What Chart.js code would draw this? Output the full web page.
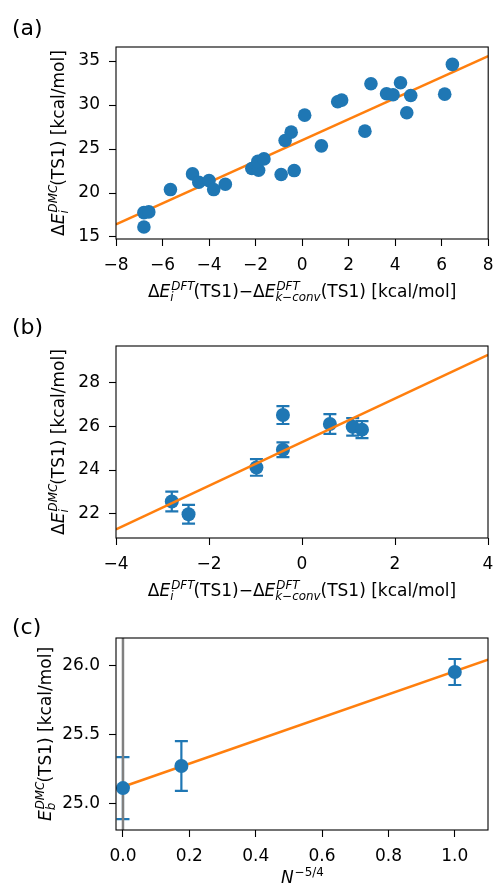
<!DOCTYPE html>
<html>
<head>
<meta charset="utf-8">
<script src="https://cdn.jsdelivr.net/npm/chart.js@4.4.0/dist/chart.umd.min.js"></script>
<style>
  body { margin: 0; background: #fff; }
  canvas { position: absolute; left: 0; }
</style>
</head>
<body>
<canvas id="ca" width="495" height="305" style="top:0px"></canvas>
<canvas id="cb" width="495" height="305" style="top:305px"></canvas>
<canvas id="cc" width="495" height="274" style="top:610px"></canvas>
<script>
  // panel (a)
  var aX = [-6.8, -6.59, -6.8, -5.66, -4.71, -4.44, -4.0, -3.8, -3.3, -2.16, -1.87, -1.9, -1.64, -0.9, -0.34, -0.73, -0.47, 0.11, 0.83, 1.53, 1.7, 2.7, 2.96, 3.63, 3.91, 4.23, 4.5, 4.67, 6.13, 6.46];
  var aY = [17.77, 17.85, 16.14, 20.39, 22.17, 21.22, 21.41, 20.39, 21.0, 22.78, 22.59, 23.6, 23.88, 22.1, 22.55, 25.97, 26.92, 28.85, 25.36, 30.37, 30.56, 27.03, 32.42, 31.28, 31.17, 32.53, 29.12, 31.09, 31.24, 34.62];
  var aFitX = [-8, 8];
  var aFitY = [16.44, 35.57];
  var aXRange = [-8, 8], aYRange = [14.77, 36.6];

  // panel (b)
  var bX = [-2.8, -2.44, -0.98, -0.41, -0.41, 0.6, 1.09, 1.29];
  var bY = [22.56, 21.98, 24.12, 24.93, 26.52, 26.11, 25.98, 25.85];
  var bErr = [0.45, 0.43, 0.38, 0.34, 0.41, 0.45, 0.40, 0.39];
  var bFitX = [-4, 4];
  var bFitY = [21.28, 29.27];
  var bXRange = [-4, 4], bYRange = [20.89, 29.68];

  // panel (c)
  var cX = [0.0, 0.176, 1.0];
  var cY = [25.11, 25.27, 25.95];
  var cErr = [0.224, 0.18, 0.094];
  var cFitX = [0.0, 1.1];
  var cFitY = [25.12, 26.04];
  var cXRange = [-0.021, 1.1], cYRange = [24.807, 26.196];

  var blue = '#1f77b4', orange = '#ff7f0e';
  var FS = 17;
  var FONT = "'DejaVu Sans', sans-serif";

  function pairs(xs, ys) {
    var out = [];
    for (var i = 0; i < xs.length; i++) out.push({x: xs[i], y: ys[i]});
    return out;
  }

  function fmt(dec) {
    return function(v) { return v.toFixed(dec).replace('-', '\u2212'); };
  }

  // text with math style super/subscripts
  function segWidth(ctx, s, size) {
    if (s.sup !== undefined || s.sub !== undefined) {
      ctx.font = (s.it ? 'italic ' : '') + (size * 0.7) + 'px ' + FONT;
      var w1 = s.sup ? ctx.measureText(s.sup).width : 0;
      var w2 = s.sub ? ctx.measureText(s.sub).width : 0;
      return Math.max(w1, w2);
    }
    ctx.font = (s.it ? 'italic ' : '') + size + 'px ' + FONT;
    return ctx.measureText(s.t).width;
  }

  function drawRich(ctx, segs, x, y, size, rot) {
    var total = 0;
    segs.forEach(function(s) { total += segWidth(ctx, s, size); });
    ctx.save();
    ctx.translate(x, y);
    if (rot) ctx.rotate(rot);
    ctx.fillStyle = '#000';
    ctx.textBaseline = 'alphabetic';
    ctx.textAlign = 'left';
    var cx = -total / 2;
    segs.forEach(function(s) {
      var w = segWidth(ctx, s, size);
      if (s.sup !== undefined || s.sub !== undefined) {
        ctx.font = (s.it ? 'italic ' : '') + (size * 0.7) + 'px ' + FONT;
        if (s.sup) ctx.fillText(s.sup, cx + 1, -size * 0.42);
        if (s.sub) ctx.fillText(s.sub, cx, size * 0.22);
      } else {
        ctx.font = (s.it ? 'italic ' : '') + size + 'px ' + FONT;
        ctx.fillText(s.t, cx, 0);
      }
      cx += w;
    });
    ctx.restore();
  }

  var xLabelDFT = [
    {t: '\u0394'}, {t: 'E', it: true}, {it: true, sup: 'DFT', sub: 'i'},
    {t: '(TS1)\u2212\u0394'}, {t: 'E', it: true}, {it: true, sup: 'DFT', sub: 'k\u2212conv'},
    {t: '(TS1) [kcal/mol]'}
  ];
  var yLabelDMC = [
    {t: '\u0394'}, {t: 'E', it: true}, {it: true, sup: 'DMC', sub: 'i'},
    {t: '(TS1) [kcal/mol]'}
  ];
  var yLabelC = [
    {t: 'E', it: true}, {it: true, sup: 'DMC', sub: 'b'},
    {t: '(TS1) [kcal/mol]'}
  ];
  var xLabelC = [
    {t: 'N', it: true}, {sup: '\u22125/4'}
  ];

  var errbarPlugin = {
    id: 'errbars',
    beforeDatasetsDraw: function(chart, args, opts) {
      if (!opts.err) return;
      var ctx = chart.ctx, xs = chart.scales.x, ys = chart.scales.y;
      var pts = chart.data.datasets[opts.index].data;
      var a = chart.chartArea;
      ctx.save();
      ctx.beginPath();
      ctx.rect(a.left, a.top, a.right - a.left, a.bottom - a.top);
      ctx.clip();
      ctx.strokeStyle = blue;
      ctx.lineWidth = 2.2;
      pts.forEach(function(p, i) {
        var px = xs.getPixelForValue(p.x);
        var top = ys.getPixelForValue(p.y + opts.err[i]);
        var bot = ys.getPixelForValue(p.y - opts.err[i]);
        ctx.beginPath();
        ctx.moveTo(px, top); ctx.lineTo(px, bot);
        ctx.moveTo(px - 6.5, top); ctx.lineTo(px + 6.5, top);
        ctx.moveTo(px - 6.5, bot); ctx.lineTo(px + 6.5, bot);
        ctx.stroke();
      });
      ctx.restore();
    }
  };

  var decoPlugin = {
    id: 'deco',
    afterDraw: function(chart, args, opts) {
      var ctx = chart.ctx, a = chart.chartArea;
      ctx.save();
      ctx.strokeStyle = '#000';
      ctx.lineWidth = 1.1;
      ctx.strokeRect(a.left, a.top, a.right - a.left, a.bottom - a.top);
      ctx.font = '22px ' + FONT;
      ctx.fillStyle = '#000';
      ctx.textAlign = 'left';
      ctx.textBaseline = 'alphabetic';
      ctx.fillText(opts.letter, 12, opts.letterY);
      ctx.restore();
      drawRich(ctx, opts.xlabel, (a.left + a.right) / 2, opts.xlabelY, FS, 0);
      drawRich(ctx, opts.ylabel, opts.ylabelX, (a.top + a.bottom) / 2, FS, -Math.PI / 2);
    }
  };

  function axis(range, step, dec, isX, size) {
    return {
      type: 'linear',
      min: range[0],
      max: range[1],
      ticks: {
        stepSize: step, includeBounds: false, callback: fmt(dec),
        color: '#000', font: {family: FONT, size: FS}, padding: isX ? 9 : 9,
        maxRotation: 0, autoSkip: false
      },
      grid: {drawOnChartArea: false, drawTicks: true, tickLength: 7, tickWidth: 1.1, tickColor: '#000', color: '#000', offset: false},
      border: {display: false},
      afterFit: function(s) {
        if (isX) s.height = size; else s.width = size;
        s.paddingLeft = 0; s.paddingRight = 0; s.paddingTop = 0; s.paddingBottom = 0;
      }
    };
  }

  function makeChart(id, sets, ax, ay, top, xh, decoOpts, errOpts) {
    return new Chart(document.getElementById(id), {
      type: 'scatter',
      data: {datasets: sets},
      options: {
        responsive: false,
        animation: false,
        events: [],
        layout: {padding: {left: 0, right: 6, top: top, bottom: 0}},
        plugins: {
          legend: {display: false},
          tooltip: {enabled: false},
          errbars: errOpts || {},
          deco: decoOpts
        },
        scales: {x: axis(ax[0], ax[1], ax[2], true, xh), y: axis(ay[0], ay[1], ay[2], false, 116)}
      },
      plugins: [errbarPlugin, decoPlugin]
    });
  }

  function pointSet(xs, ys, r, order) {
    return {data: pairs(xs, ys), showLine: false, pointRadius: r, pointBackgroundColor: blue,
            pointBorderWidth: 0, borderWidth: 0, order: order};
  }
  function lineSet(xs, ys, color, width, order) {
    return {data: pairs(xs, ys), showLine: true, pointRadius: 0, borderColor: color,
            borderWidth: width, fill: false, order: order};
  }

  makeChart('ca',
    [pointSet(aX, aY, 6.8, 1), lineSet(aFitX, aFitY, orange, 2.5, 2)],
    [aXRange, 2, 0], [aYRange, 5, 0], 47, 66,
    {letter: '(a)', letterY: 35, xlabel: xLabelDFT, xlabelY: 297, ylabel: yLabelDMC, ylabelX: 64});

  makeChart('cb',
    [pointSet(bX, bY, 7, 2), lineSet(bFitX, bFitY, orange, 2.5, 1)],
    [bXRange, 2, 0], [bYRange, 2, 0], 41, 72,
    {letter: '(b)', letterY: 29, xlabel: xLabelDFT, xlabelY: 291, ylabel: yLabelDMC, ylabelX: 64},
    {index: 0, err: bErr});

  makeChart('cc',
    [pointSet(cX, cY, 7, 1), lineSet(cFitX, cFitY, orange, 2.5, 2),
     lineSet([0, 0], cYRange, '#808080', 2.5, 3)],
    [cXRange, 0.2, 1], [cYRange, 0.5, 1], 28, 54,
    {letter: '(c)', letterY: 24, xlabel: xLabelC, xlabelY: 273, ylabel: yLabelC, ylabelX: 51},
    {index: 0, err: cErr});
</script>
</body>
</html>
